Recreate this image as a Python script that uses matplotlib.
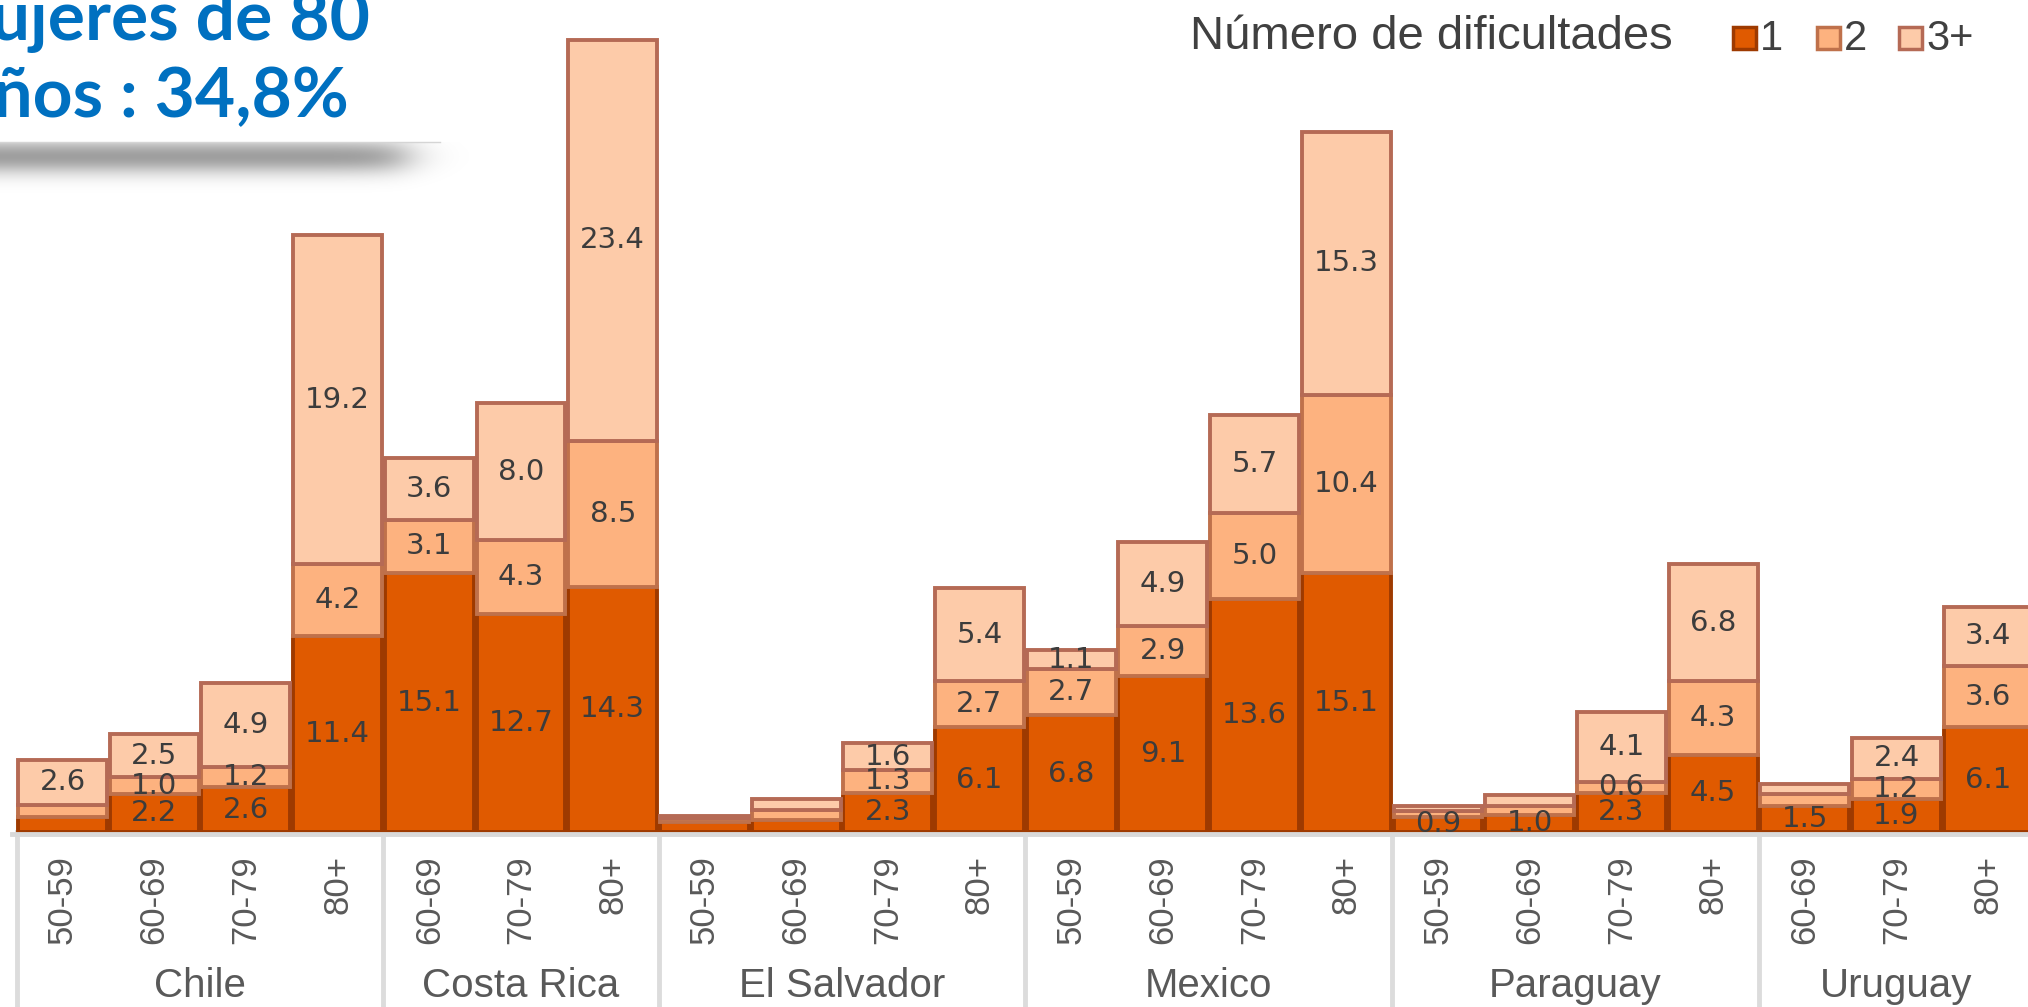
import numpy as np
import matplotlib.pyplot as plt
from matplotlib.patches import Rectangle

# stacked shares by number of difficulties (1, 2, 3+), country x age group
countries = ['Chile', 'Costa Rica', 'El Salvador', 'Mexico', 'Paraguay', 'Uruguay']
ages = [['50-59', '60-69', '70-79', '80+'],
        ['60-69', '70-79', '80+'],
        ['50-59', '60-69', '70-79', '80+'],
        ['50-59', '60-69', '70-79', '80+'],
        ['50-59', '60-69', '70-79', '80+'],
        ['60-69', '70-79', '80+']]

one = [0.9, 2.2, 2.6, 11.4, 15.1, 12.7, 14.3, 0.6, 0.7, 2.3, 6.1,
       6.8, 9.1, 13.6, 15.1, 0.9, 1.0, 2.3, 4.5, 1.5, 1.9, 6.1]
two = [0.7, 1.0, 1.2, 4.2, 3.1, 4.3, 8.5, 0.2, 0.6, 1.3, 2.7,
       2.7, 2.9, 5.0, 10.4, 0.3, 0.5, 0.6, 4.3, 0.7, 1.2, 3.6]
three = [2.6, 2.5, 4.9, 19.2, 3.6, 8.0, 23.4, 0.15, 0.6, 1.6, 5.4,
         1.1, 4.9, 5.7, 15.3, 0.3, 0.65, 4.1, 6.8, 0.6, 2.4, 3.4]

# which segments carry a value label
no_label_one = [0, 7, 8]
no_label_two = [0, 7, 8, 15, 16, 19]
no_label_three = [7, 8, 15, 16, 19]

series_names = ['1', '2', '3+']
fills = ['#E05A00', '#FDB27F', '#FDCBA9']
edges = ['#9E3A00', '#BF714B', '#B56A55']

title_lines = ['Mujeres de 80', 'años : 34,8%']
legend_title = 'Número de dificultades'

W, H = 2028, 1007
base_px = 832          # baseline row in pixels
px_per_unit = 17.15
x0_px, step_px = 62.5, 91.7

fig = plt.figure(figsize=(W / 100, H / 100), dpi=100)
ax = fig.add_axes([0, 0, 1, 1])
ax.set_xlim(-x0_px / step_px, (W - x0_px) / step_px)
ax.set_ylim(-(H - base_px) / px_per_unit, base_px / px_per_unit)
ax.axis('off')

n = len(one)
x = np.arange(n)
segs = [one, two, three]
hidden = [no_label_one, no_label_two, no_label_three]
bottom = np.zeros(n)
for k in range(3):
    vals = np.array(segs[k])
    ax.bar(x, vals, bottom=bottom, width=0.97, color=fills[k],
           edgecolor=edges[k], linewidth=2.8, zorder=3)
    for i in range(n):
        if i in hidden[k]:
            continue
        ax.text(x[i], bottom[i] + vals[i] / 2, f'{vals[i]:.1f}', ha='center',
                va='center', fontsize=21, color='#3c3c3c', zorder=4,
                family='DejaVu Sans')
    bottom = bottom + vals

# category axis: baseline, group separators, rotated ages, country names
ymin = ax.get_ylim()[0]
ax.axhline(-0.13, xmin=0.006, xmax=1, color='#D9D9D9', lw=3.5, zorder=5)
start = 0
for g, name in enumerate(countries):
    cnt = len(ages[g])
    ax.plot([start - 0.5, start - 0.5], [ymin, 0], color='#DCDCDC', lw=3.5, zorder=2)
    for j, lab in enumerate(ages[g]):
        ax.text(start + j, -23 / px_per_unit, lab, rotation=90, ha='center', va='top',
                fontsize=25, color='#595959', family='Liberation Sans')
    ax.text(start + (cnt - 1) / 2, -165 / px_per_unit, name, ha='center',
            va='baseline', fontsize=29, color='#595959', family='Liberation Sans')
    start += cnt

# overlay in pixel coordinates for heading box, shadow and legend
ov = fig.add_axes([0, 0, 1, 1], zorder=5)
ov.axis('off')

xs = np.arange(0, 480)
ys = np.arange(142, 205)
fx = 1 / (1 + np.exp((xs - 405) / 14))
fy = np.exp(-((ys - 156) / 17.0) ** 2)
shade = np.zeros((len(ys), len(xs), 4))
shade[..., 3] = 0.38 * np.outer(fy, fx)
ov.imshow(shade, extent=[0, 480, 205, 142], aspect='auto', zorder=1)
ov.plot([0, 440], [142, 142], color='#D5D5D5', lw=1, zorder=2)
ov.set_xlim(0, W)
ov.set_ylim(H, 0)

ov.text(370, 40, title_lines[0], ha='right', va='baseline', fontsize=50,
        fontweight='bold', color='#0070C0', family='Lato', zorder=3)
ov.text(349, 117, title_lines[1], ha='right', va='baseline', fontsize=50,
        fontweight='bold', color='#0070C0', family='Lato', zorder=3)

ov.text(1190, 37, legend_title, ha='left', va='center', fontsize=34,
        color='#404040', family='Liberation Sans')
for k, (lx, name) in enumerate(zip([1733, 1817, 1899], series_names)):
    ov.add_patch(Rectangle((lx, 27), 23, 22, facecolor=fills[k],
                           edgecolor=edges[k], lw=2.5))
    ov.text(lx + 27, 39, name, ha='left', va='center', fontsize=30,
            color='#404040', family='Liberation Sans')

fig.savefig('out.png', dpi=100)
